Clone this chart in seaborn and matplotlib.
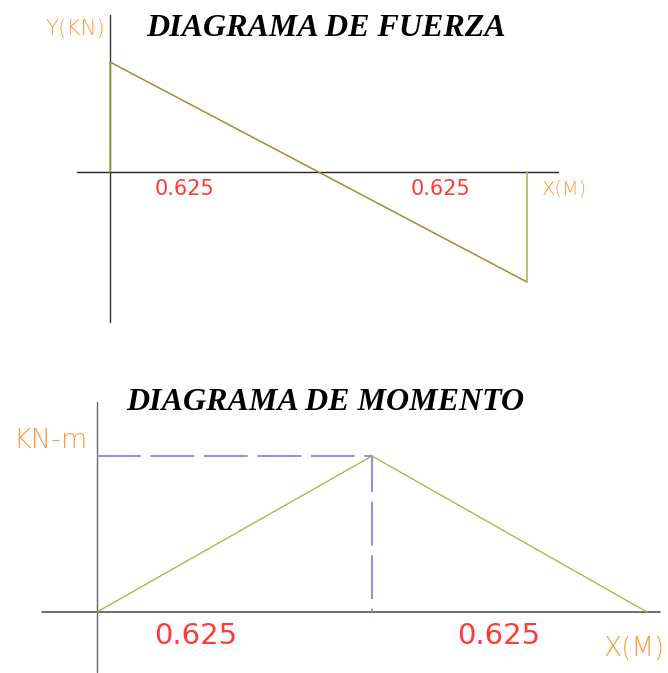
import matplotlib
matplotlib.use("Agg")
import matplotlib.pyplot as plt
import seaborn as sns
import numpy as np

sns.set_style("white")

# ---- data ----
x_pos = [0.0, 0.625, 1.25]          # m
shear = [1.0, 0.0, -1.0]            # kN (relative)
moment = [0.0, 1.0, 0.0]            # kN-m (relative)
span_labels = ["0.625", "0.625"]

W, H = 668, 673
fig = plt.figure(figsize=(W / 100, H / 100), dpi=100)
fig.patch.set_facecolor("white")

def fx(px):
    return px / W

def fy(py):
    return 1 - py / H

ORANGE = "#ff9a3c"
RED = "#ff3a3a"
GREEN = "#9cb934"
OLIVE = "#a68c2a"
BLUE = "#8a8af2"

# ---------------- top: shear diagram ----------------
sx1, ox1, oy1, sy1 = 333.6, 110, 172, 110
top_h = 340
ax1 = fig.add_axes([0, 1 - top_h / H, 1, top_h / H])
ax1.set_xlim(-ox1 / sx1, (W - ox1) / sx1)
ax1.set_ylim((oy1 - top_h) / sy1, oy1 / sy1)
ax1.axis("off")

# axes
ax1.plot([0, 0], [(oy1 - 15) / sy1, (oy1 - 322) / sy1], color="#333333", lw=1.0)
ax1.plot([(77 - ox1) / sx1, (558 - ox1) / sx1], [0, 0], color="#222222", lw=1.0)

# shear lines
sns.lineplot(x=[x_pos[0], x_pos[0]], y=[0, shear[0]], ax=ax1, color=GREEN, lw=1.1,
             estimator=None, sort=False)
sns.lineplot(x=x_pos, y=shear, ax=ax1, color=OLIVE, lw=1.1, estimator=None, sort=False)
sns.lineplot(x=[x_pos[-1], x_pos[-1]], y=[shear[-1], 0], ax=ax1, color=GREEN, lw=1.1,
             estimator=None, sort=False)

# ---------------- bottom: moment diagram ----------------
sx2, ox2, oy2, sy2 = 440, 97, 612, 156
ax2 = fig.add_axes([0, 0, 1, (H - top_h) / H])
ax2.set_xlim(-ox2 / sx2, (W - ox2) / sx2)
ax2.set_ylim((oy2 - H) / sy2, (oy2 - top_h) / sy2)
ax2.axis("off")

ax2.plot([0, 0], [(oy2 - 402) / sy2, (oy2 - 672) / sy2], color="#666666", lw=1.0)
ax2.plot([(42 - ox2) / sx2, (660 - ox2) / sx2], [0, 0], color="#555555", lw=1.2)

mmax = max(moment)
xm = x_pos[int(np.argmax(moment))]
ax2.plot([0, xm, xm], [mmax, mmax, 0], color=BLUE, lw=1.4, dashes=(22.5, 5.0))
sns.lineplot(x=x_pos, y=moment, ax=ax2, color=GREEN, lw=0.9, estimator=None, sort=False)

# ---------------- texts ----------------
serif = "Liberation Serif"
fig.text(fx(326), fy(28), "DIAGRAMA DE FUERZA", ha="center", va="center",
         fontsize=23, fontweight="bold", fontstyle="italic", family=serif, color="black")
fig.text(fx(325), fy(402), "DIAGRAMA DE MOMENTO", ha="center", va="center",
         fontsize=23, fontweight="bold", fontstyle="italic", family=serif, color="black")

fig.text(fx(75), fy(29), "Y(KN)", ha="center", va="center", fontsize=15.5,
         color=ORANGE, fontweight="light")
fig.text(fx(564), fy(189), "X(M)", ha="center", va="center", fontsize=14,
         color=ORANGE, fontweight="light")
fig.text(fx(50), fy(440), "KN-m", ha="center", va="center", fontsize=19.5,
         color=ORANGE, fontweight="light")
fig.text(fx(634), fy(648), "X(M)", ha="center", va="center", fontsize=19,
         color=ORANGE, fontweight="light")

fig.text(fx(185), fy(189), span_labels[0], ha="center", va="center", fontsize=15, color=RED)
fig.text(fx(440), fy(189), span_labels[1], ha="center", va="center", fontsize=15, color=RED)
fig.text(fx(196), fy(636), span_labels[0], ha="center", va="center", fontsize=21, color=RED)
fig.text(fx(499), fy(636), span_labels[1], ha="center", va="center", fontsize=21, color=RED)

fig.savefig("out.png", dpi=100, facecolor="white")
